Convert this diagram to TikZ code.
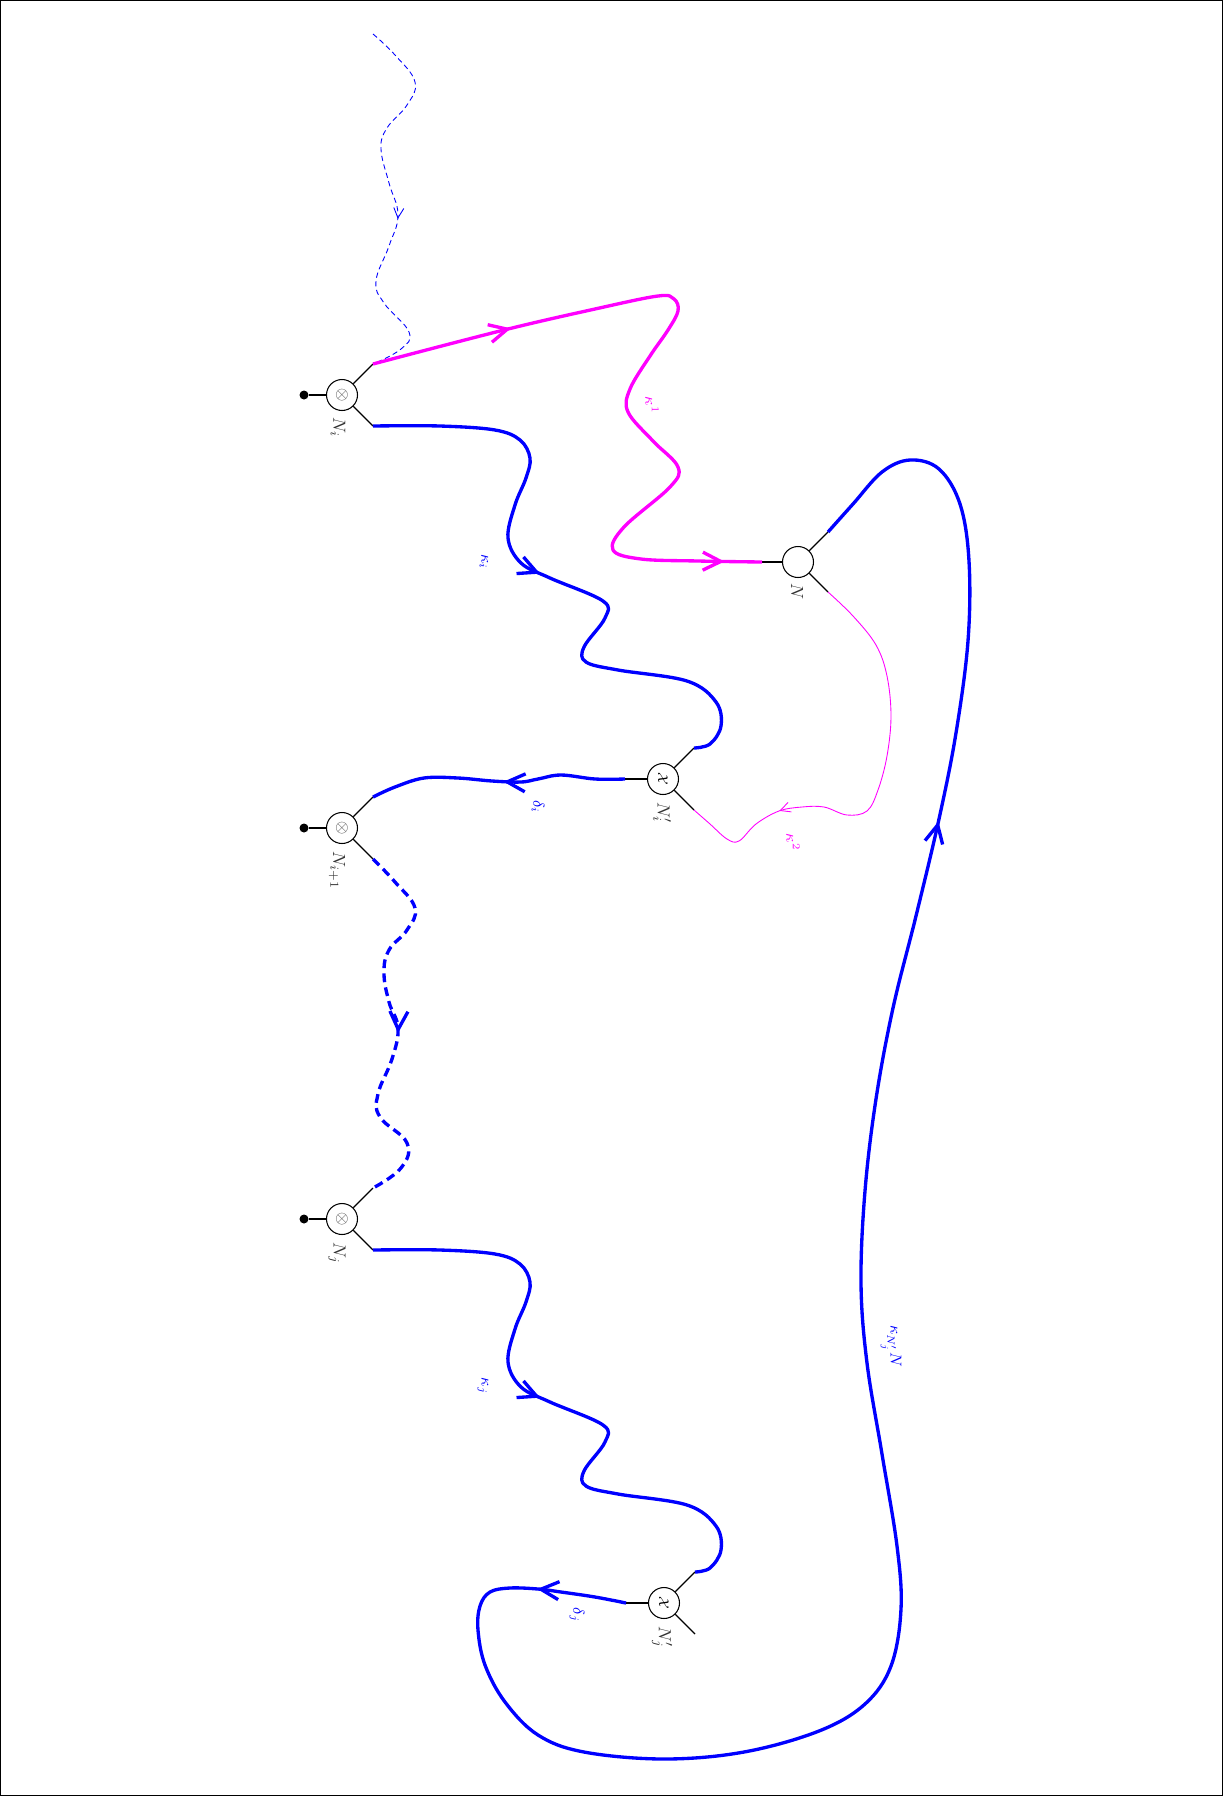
\documentclass[tikz,border=0pt]{standalone}
\usepackage{graphicx}
\usetikzlibrary{arrows.meta,decorations.markings}
\definecolor{mag}{RGB}{255,0,255}
\definecolor{blu}{RGB}{0,0,255}
\begin{document}
\begin{tikzpicture}[x=0.02cm,y=-0.02cm,
  vtx/.style={circle, draw, line width=0.6pt, minimum size=0.62cm, inner sep=0pt, fill=white},
  leg/.style={line width=0.7pt},
  thk/.style={line width=1.9pt, line join=round},
  lbl/.style={rotate=-90, font=\normalsize, text=black!80},
  glbl/.style={rotate=-90, font=\small},
  arr/.style={postaction={solid, decorate, decoration={markings, mark=at position #1 with {\arrow{Straight Barb[length=3.6mm,width=3.6mm]}}}}},
  sarr/.style={postaction={solid, decorate, decoration={markings, mark=at position #1 with {\arrow{Straight Barb[length=2mm,width=2mm]}}}}},
  dot/.style={circle, fill=black, inner sep=0pt, minimum size=1.8mm}
]
\useasboundingbox (0,0) rectangle (1223,1796);
\draw[line width=0.6pt] (0.5,0.5) rectangle (1222.5,1795.5);

% ---------- vertices ----------
\node[vtx] (Ni) at (342,395) {\color{black!70}$\otimes$};
\node[vtx] (Nip) at (342,828) {\color{black!70}$\otimes$};
\node[vtx] (Nj) at (342,1219) {\color{black!70}$\otimes$};
\node[vtx] (N) at (798,562) {};
\node[vtx] (Xi) at (663,779) {\rotatebox{-90}{\footnotesize$\mathcal{X}$}};
\node[vtx] (Xj) at (664,1603) {\rotatebox{-90}{\footnotesize$\mathcal{X}$}};

\node[dot] (Ni-d) at (304,395) {};
\node[dot] (Nip-d) at (304,828) {};
\node[dot] (Nj-d) at (304,1219) {};
\draw[leg] (Ni-d) -- (Ni.west);
\draw[leg] (Nip-d) -- (Nip.west);
\draw[leg] (Nj-d) -- (Nj.west);

\coordinate (Ni-u) at (373,364);  \coordinate (Ni-l) at (373,426);
\coordinate (Nip-u) at (373,797); \coordinate (Nip-l) at (373,859);
\coordinate (Nj-u) at (373,1188); \coordinate (Nj-l) at (373,1250);
\coordinate (N-u) at (828,532);   \coordinate (N-l) at (828,592);  \coordinate (N-w) at (762,562);
\coordinate (Xi-u) at (694,748);  \coordinate (Xi-l) at (694,810); \coordinate (Xi-w) at (625,779);
\coordinate (Xj-u) at (695,1572); \coordinate (Xj-l) at (695,1634); \coordinate (Xj-w) at (626,1603);
\coordinate (top) at (373,34);

\foreach \v in {Ni,Nip,Nj,N,Xi,Xj}{
  \draw[leg] (\v.45) -- (\v-u);
  \draw[leg] (\v.-45) -- (\v-l);
}
\draw[leg] (N.west) -- (N-w);
\draw[leg] (Xi.west) -- (Xi-w);
\draw[leg] (Xj.west) -- (Xj-w);

% ---------- labels ----------
\node[lbl] at (338,427) {$N_i$};
\node[lbl] at (337,870) {$N_{i+1}$};
\node[lbl] at (337,1253) {$N_j$};
\node[lbl] at (797,592) {$N$};
\node[lbl] at (662,813) {$N'_i$};
\node[lbl] at (662,1637) {$N'_j$};

\node[glbl, mag] at (652,405) {$\kappa^1$};
\node[glbl, mag] at (793,842) {$\kappa^2$};
\node[glbl, blu] at (484,562) {$\kappa_i$};
\node[glbl, blu] at (483,1386) {$\kappa_j$};
\node[glbl, blu] at (538,807) {$\delta_i$};
\node[glbl, blu] at (577,1615) {$\delta_j$};
\node[glbl, blu] at (891,1346) {$\kappa_{N'_j}N$};

% ---------- connectors ----------
% thin dashed from top into N_i
\draw[blu, line width=0.5pt, dash pattern=on 3pt off 2pt, sarr=4.3cm]
  plot[smooth, tension=0.7] coordinates {(top) (395,55) (415,82) (407,105) (387,128) (381,149) (389,183) (398,215) (389,246) (376,281) (384,303) (409,332) (401,349) (Ni-u)};

% kappa^1 : N_i -> N
\draw[mag, thk, arr=2.85cm, arr=-0.75cm]
  plot[smooth, tension=0.6] coordinates {(Ni-u) (504,330) (595,309) (658,296) (674,299) (678,311) (668,330) (650,356) (630,389) (628,412) (653,441) (678,467) (670,487) (624,527) (613,550) (641,559) (698,561) (N-w)};

% kappa_i : N_i -> N'_i
\draw[blu, thk, arr=6.1cm]
  plot[smooth, tension=0.6] coordinates {(Ni-l) (440,426) (495,430) (520,440) (530,458) (526,478) (515,505) (508,538) (521,563) (550,578) (603,601) (605,618) (584,647) (586,662) (618,670) (687,681) (716,702) (721,726) (710,744) (Xi-u)};

% delta_i : N'_i -> N_{i+1}
\draw[blu, thk, arr=2.45cm]
  plot[smooth, tension=0.6] coordinates {(Xi-w) (595,779) (561,775) (538,779) (521,782) (492,781) (458,778) (424,778) (395,787) (Nip-u)};

% kappa^2 : N -> N'_i
\draw[mag, line width=0.5pt, sarr=6.7cm]
  plot[smooth, tension=0.6] coordinates {(N-l) (853,616) (876,645) (887,676) (891,716) (887,756) (878,790) (867,811) (847,815) (824,807) (802,807) (779,811) (756,824) (739,841) (727,839) (710,824) (Xi-l)};

% dashed : N_{i+1} -> N_j
\draw[blu, thk, dash pattern=on 5pt off 3pt, arr=4.05cm]
  plot[smooth, tension=0.7] coordinates {(Nip-l) (395,882) (415,908) (407,930) (389,950) (384,973) (389,1002) (398,1028) (392,1059) (378,1094) (380,1117) (407,1143) (401,1168) (Nj-u)};

% kappa_j : N_j -> N'_j
\draw[blu, thk, arr=6.1cm]
  plot[smooth, tension=0.6] coordinates {(Nj-l) (440,1250) (495,1254) (520,1264) (530,1282) (526,1302) (515,1329) (508,1362) (521,1387) (550,1402) (603,1425) (605,1442) (584,1471) (586,1486) (618,1494) (687,1505) (716,1526) (721,1550) (710,1568) (Xj-u)};

% delta_j : N'_j -> N (big loop)
\draw[blu, thk, arr=1.8cm, arr=-10.1cm]
  plot[smooth, tension=0.6] coordinates {(Xj-w) (595,1597) (561,1592) (538,1589) (510,1588) (490,1592) (480,1606) (478,1630) (485,1665) (505,1702) (538,1735) (584,1752) (664,1759) (744,1752) (819,1731) (865,1704) (891,1666) (901,1609) (897,1546) (882,1454) (867,1363) (861,1283) (865,1191) (876,1099) (893,1008) (916,916) (939,819) (956,733) (968,641) (969,561) (960,504) (939,469) (910,460) (882,472) (853,504) (N-u)};
\end{tikzpicture}
\end{document}
